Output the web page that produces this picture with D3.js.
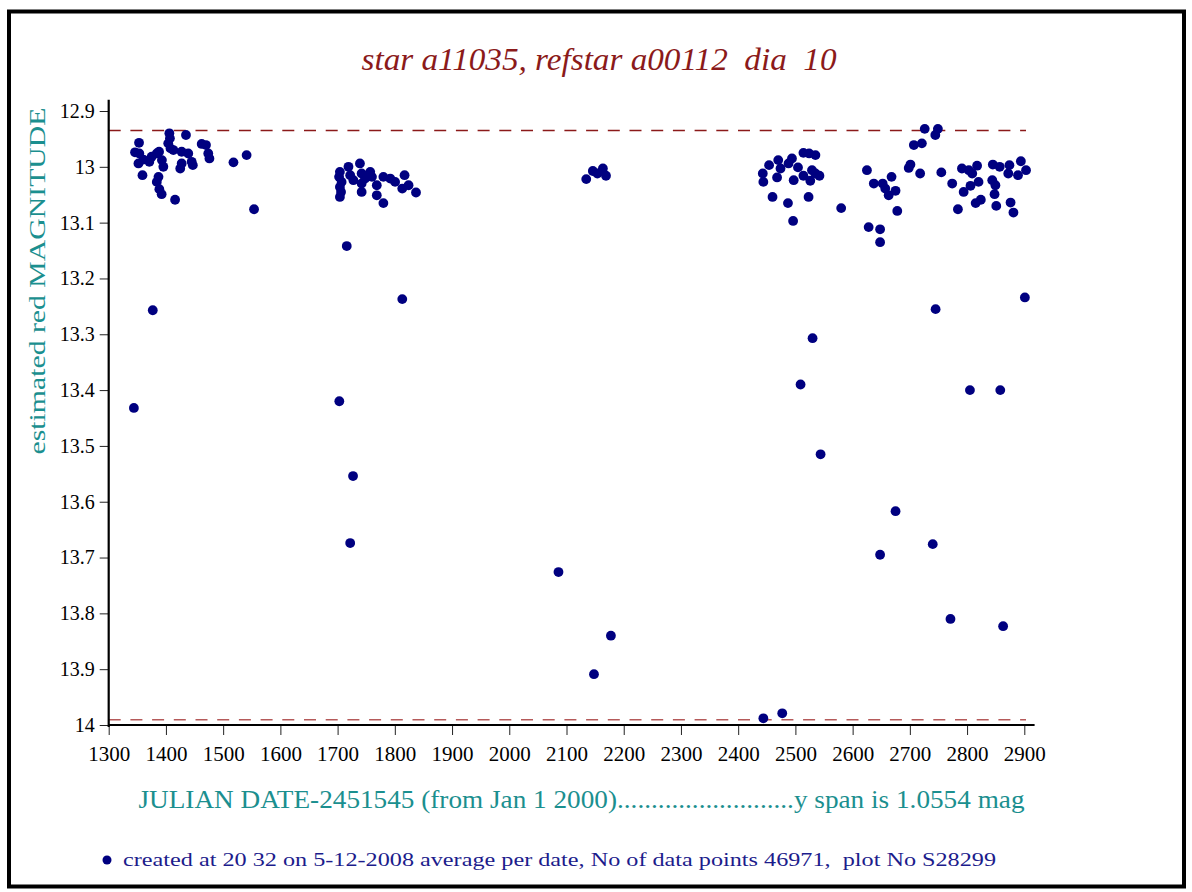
<!DOCTYPE html>
<html>
<head>
<meta charset="utf-8">
<script src="https://cdn.jsdelivr.net/npm/d3@7"></script>
<style>
  body { margin: 0; background: #fff; }
  svg { display: block; }
  text { font-family: "Liberation Serif", "Times New Roman", Times, serif; }
</style>
</head>
<body>
<script>
// julian date - 2451545, magnitude (one pair per plotted date)
const jdCluster1 = [1353, 1346, 1353.5, 1352, 1360.5, 1371, 1375, 1384, 1388, 1393, 1395.5, 1359, 1387, 1384, 1388.5, 1392.5,
  1406, 1407, 1404, 1408, 1413, 1427.5, 1435, 1439, 1427.5, 1425, 1445, 1447, 1462.5, 1470, 1474, 1476, 1518, 1541, 1416, 1554,
  1377, 1344];
const magCluster1 = [12.957, 12.974, 12.976, 12.994, 12.987, 12.991, 12.982, 12.976, 12.973, 12.988, 13.0, 13.015, 13.018, 13.027, 13.040, 13.049,
  12.940, 12.949, 12.958, 12.967, 12.970, 12.973, 12.943, 12.976, 12.994, 13.003, 12.991, 12.997, 12.959, 12.961, 12.976, 12.985, 12.992, 12.979, 13.059, 13.076,
  13.257, 13.432];

const jdCluster2 = [1704, 1702.6, 1707, 1704, 1706, 1704, 1719, 1722, 1727.6, 1739, 1742, 1748, 1742, 1757, 1760, 1742, 1768.5, 1768.5,
  1780, 1780, 1792, 1800.5, 1817, 1813, 1824, 1837,
  1716, 1813, 1703, 1727, 1722];
const magCluster2 = [13.009, 13.018, 13.027, 13.036, 13.045, 13.054, 13.0, 13.015, 13.024, 12.994, 13.012, 13.021, 13.030, 13.009, 13.018, 13.045, 13.033, 13.051,
  13.065, 13.018, 13.021, 13.027, 13.015, 13.039, 13.033, 13.046,
  13.142, 13.237, 13.42, 13.554, 13.674];

const jdCluster3 = [2134.5, 2146, 2154, 2163.6, 2169, 2086, 2148, 2177.6];
const magCluster3 = [13.022, 13.0075, 13.012, 13.003, 13.016, 13.726, 13.909, 13.840];

const jdCluster4 = [2514, 2524, 2535, 2454, 2470, 2488, 2494, 2504.5, 2474, 2443, 2444, 2468, 2497, 2514, 2529, 2535, 2542, 2526,
  2460, 2487, 2523, 2496, 2580, 2628, 2648,
  2726, 2749, 2744.5, 2707, 2721, 2625, 2637, 2652.5, 2657, 2663, 2668, 2675, 2678, 2701, 2698, 2718, 2755, 2774, 2791, 2803, 2809,
  2817.5, 2820, 2806, 2794, 2784, 2815, 2824, 2845, 2857, 2844, 2849.5, 2848, 2851, 2874, 2872, 2876, 2881, 2889, 2894, 2903,
  2444, 2477, 2509, 2530, 2544, 2648, 2648, 2675, 2745, 2740, 2771, 2805, 2858, 2863, 2901];
const magCluster4 = [12.975, 12.976, 12.979, 12.997, 12.988, 12.994, 12.985, 13.001, 13.003, 13.012, 13.027, 13.019, 13.024, 13.016, 13.006, 13.012, 13.016, 13.025,
  13.054, 13.065, 13.054, 13.097, 13.074, 13.108, 13.112,
  12.932, 12.932, 12.943, 12.961, 12.958, 13.006, 13.030, 13.030, 13.039, 13.051, 13.018, 13.043, 13.079, 12.996, 13.002, 13.012, 13.010, 13.030, 13.003, 13.006, 13.012,
  12.998, 13.027, 13.034, 13.045, 13.076, 13.065, 13.059, 12.996, 13.0, 13.024, 13.033, 13.049, 13.07, 12.997, 13.012, 13.064, 13.082, 13.015, 12.990, 13.006,
  13.988, 13.979, 13.39, 13.307, 13.515, 13.135, 13.695, 13.617, 13.255, 13.676, 13.81, 13.40, 13.40, 13.823, 13.234];

const xTicks = [1300, 1400, 1500, 1600, 1700, 1800, 1900, 2000, 2100, 2200, 2300, 2400, 2500, 2600, 2700, 2800, 2900];
const yTicks = [12.9, 13, 13.1, 13.2, 13.3, 13.4, 13.5, 13.6, 13.7, 13.8, 13.9, 14];

// y span limits (dashed lines)
const spanTop = 12.935;
const spanBottom = 13.9904;

const titleText = "star a11035, refstar a00112  dia  10";
const yLabelText = "estimated red MAGNITUDE";
const xLabelText = "JULIAN DATE-2451545 (from Jan 1 2000)..........................y span is 1.0554 mag";
const footerText = "created at 20 32 on 5-12-2008 average per date, No of data points 46971,  plot No S28299";

const W = 1192, H = 892;
const serif = "'Liberation Serif', 'Times New Roman', Times, serif";

const jd = [].concat(jdCluster1, jdCluster2, jdCluster3, jdCluster4);
const mag = [].concat(magCluster1, magCluster2, magCluster3, magCluster4);
const points = jd.map((d, i) => ({ jd: d, mag: mag[i] }));

const svg = d3.select("body").append("svg")
    .attr("width", W)
    .attr("height", H);

// frame
svg.append("rect")
    .attr("x", 9).attr("y", 11.5)
    .attr("width", 1175).attr("height", 875)
    .attr("fill", "#fff")
    .attr("stroke", "#000")
    .attr("stroke-width", 4);

const x = d3.scaleLinear().domain([1300, 2900]).range([108.7, 1024.3]);
const y = d3.scaleLinear().domain([12.9, 14]).range([111, 725]);

// dashed span lines
svg.append("line")
    .attr("x1", x(1300)).attr("x2", 1026)
    .attr("y1", y(spanTop)).attr("y2", y(spanTop))
    .attr("stroke", "#8b1a1a").attr("stroke-width", 1.5)
    .attr("stroke-dasharray", "12,9.7");
svg.append("line")
    .attr("x1", x(1300)).attr("x2", 1026)
    .attr("y1", y(spanBottom)).attr("y2", y(spanBottom))
    .attr("stroke", "#b55a5a").attr("stroke-width", 1.5)
    .attr("stroke-dasharray", "12,9.7");

// axes
const xAxis = svg.append("g")
    .attr("transform", `translate(0,${y(14)})`)
    .call(d3.axisBottom(x).tickValues(xTicks).tickSize(10).tickSizeOuter(0).tickFormat(d3.format("d")));
xAxis.attr("font-family", serif);
xAxis.select(".domain").remove();
xAxis.append("line")
    .attr("x1", x(1300)).attr("x2", x(2918))
    .attr("stroke", "#000").attr("stroke-width", 2.2);
xAxis.selectAll(".tick line").attr("stroke", "#222");
xAxis.selectAll(".tick text")
    .attr("y", 21)
    .attr("fill", "#000")
    .style("font-size", "21px")
    .style("font-family", serif);

const yAxis = svg.append("g")
    .attr("transform", `translate(${x(1300)},0)`)
    .call(d3.axisLeft(y).tickValues(yTicks).tickSize(9).tickSizeOuter(0).tickFormat(d => String(+d.toFixed(1))));
yAxis.attr("font-family", serif);
yAxis.select(".domain").remove();
yAxis.append("line")
    .attr("y1", y(12.88)).attr("y2", y(14) + 2)
    .attr("stroke", "#000").attr("stroke-width", 2.2);
yAxis.selectAll(".tick line").attr("stroke", "#222");
yAxis.selectAll(".tick text")
    .attr("x", -14)
    .attr("fill", "#000")
    .style("font-size", "20px")
    .style("font-family", serif);

// points
svg.append("g")
    .selectAll("circle")
    .data(points)
    .join("circle")
    .attr("cx", d => x(d.jd))
    .attr("cy", d => y(d.mag))
    .attr("r", 4.9)
    .attr("fill", "#000080");

// title
svg.append("text")
    .attr("x", 599).attr("y", 70)
    .attr("text-anchor", "middle")
    .attr("fill", "#8b1a1a")
    .attr("textLength", 475)
    .attr("lengthAdjust", "spacingAndGlyphs")
    .style("font-size", "32px")
    .style("font-style", "italic")
    .style("white-space", "pre")
    .text(titleText);

// y label
svg.append("text")
    .attr("transform", "translate(45,281) rotate(-90)")
    .attr("text-anchor", "middle")
    .attr("fill", "#1b8f8f")
    .attr("textLength", 347)
    .attr("lengthAdjust", "spacingAndGlyphs")
    .style("font-size", "24px")
    .text(yLabelText);

// x label
svg.append("text")
    .attr("x", 581.5).attr("y", 808)
    .attr("text-anchor", "middle")
    .attr("fill", "#1b8f8f")
    .attr("textLength", 886)
    .attr("lengthAdjust", "spacingAndGlyphs")
    .style("font-size", "25px")
    .text(xLabelText);

// footer
svg.append("circle")
    .attr("cx", 107).attr("cy", 860)
    .attr("r", 4.5)
    .attr("fill", "#000080");
svg.append("text")
    .attr("x", 123).attr("y", 866)
    .attr("fill", "#1c1c8c")
    .attr("textLength", 873)
    .attr("lengthAdjust", "spacingAndGlyphs")
    .style("font-size", "19px")
    .style("white-space", "pre")
    .text(footerText);
</script>
</body>
</html>
